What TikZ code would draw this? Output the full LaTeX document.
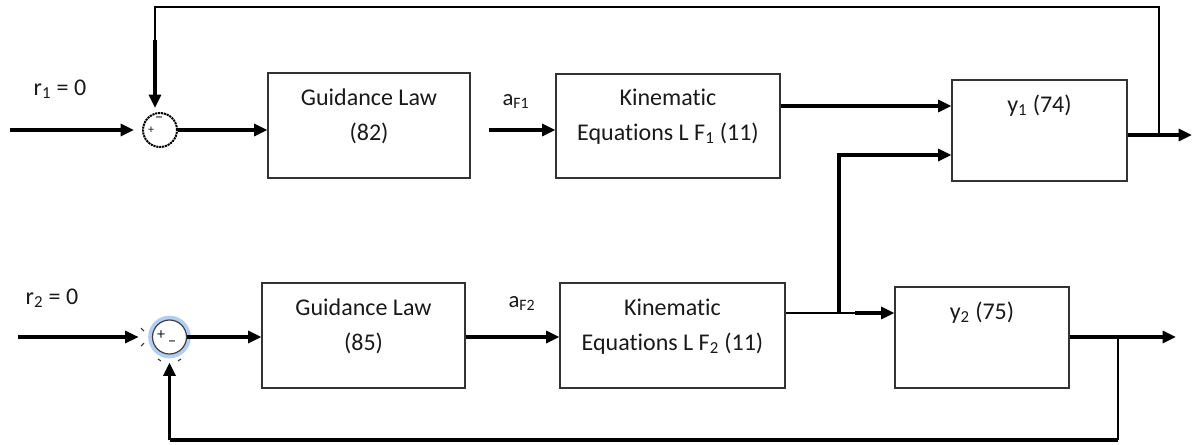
\documentclass[tikz,border=0pt]{standalone}
\usepackage{fontspec}
\setmainfont{Carlito}[RawFeature=-liga]
\usetikzlibrary{arrows.meta,calc}
\begin{document}
\begin{tikzpicture}[x=0.75pt,y=-0.75pt,
  every node/.style={font=\fontsize{18}{22}\selectfont, text=black!90},
  blockbox/.style={draw=black!80, line width=0.8pt, inner sep=0pt},
  txt/.style={anchor=base, inner sep=0pt},
  sumnode/.style={circle, minimum size=25.5pt, inner sep=0pt},
  tip/.style={-{Triangle[length=10pt,width=9pt]}},
  thickline/.style={line width=2.3pt},
  thinline/.style={line width=1pt},
]
\useasboundingbox (0,0) rectangle (1193,444);

% ---------- blocks ----------
\node[blockbox, minimum width=151.5pt, minimum height=78.75pt] (gl1) at (369,125.5) {};
\node[blockbox, minimum width=168pt, minimum height=78pt] (ke1) at (668,126) {};
\node[blockbox, minimum width=131.25pt, minimum height=75.75pt] (y1) at (1039.5,130.5) {};
\node[blockbox, minimum width=152.25pt, minimum height=78.75pt] (gl2) at (363.5,335.5) {};
\node[blockbox, minimum width=168.75pt, minimum height=78.75pt] (ke2) at (672.5,335.5) {};
\node[blockbox, minimum width=130.5pt, minimum height=75.75pt] (y2) at (982,337.5) {};

% ---------- block texts ----------
\node[txt] (gl1a) at ($(gl1.north)+(0,33)$) {Guidance Law};
\node[txt] (gl1b) at ($(gl1.north)+(0,68)$) {(82)};
\node[txt] (ke1a) at ($(ke1.north)+(0,32)$) {Kinematic};
\node[txt] (ke1b) at ($(ke1.north)+(0,67)$) {Equations L F\textsubscript{1} (11)};
\node[txt] (y1a) at ($(y1.north)+(0,33)$) {y\textsubscript{1} (74)};
\node[txt] (gl2a) at ($(gl2.north)+(0,33)$) {Guidance Law};
\node[txt] (gl2b) at ($(gl2.north)+(0,68)$) {(85)};
\node[txt] (ke2a) at ($(ke2.north)+(0,33)$) {Kinematic};
\node[txt] (ke2b) at ($(ke2.north)+(0,68)$) {Equations L F\textsubscript{2} (11)};
\node[txt] (y2a) at ($(y2.north)+(0,33)$) {y\textsubscript{2} (75)};

% ---------- labels ----------
\node[txt] (r1) at (60,95) {r\textsubscript{1} = 0};
\node[txt] (r2) at (52,304) {r\textsubscript{2} = 0};
\node[txt, font=\fontsize{17}{18}\selectfont] (af1) at (516,105) {a\textsubscript{F1}};
\node[txt, font=\fontsize{17}{18}\selectfont] (af2) at (522,307) {a\textsubscript{F2}};

% ---------- summing junctions ----------
\node[sumnode, draw=black, line width=1.5pt, dash pattern=on 1.6pt off 0.6pt] (s1) at (160,130) {};
\node[inner sep=0pt, font=\fontsize{12}{12}\selectfont] (s1m) at (159,120) {\textminus};
\node[inner sep=0pt, font=\fontsize{9}{9}\selectfont] (s1p) at (151,130) {+};

\fill[color={rgb,255:red,178;green,206;blue,242}] (169.5,337) circle[radius=16pt];
\node[sumnode, draw=black!75, line width=0.9pt, fill=white] (s2) at (169.5,337) {};
\node[inner sep=0pt, font=\fontsize{12}{12}\selectfont] (s2p) at (161,335) {+};
\node[inner sep=0pt, font=\fontsize{12}{12}\selectfont] (s2m) at (172,344) {\textminus};
\draw[black!80, line width=0.8pt] (141,328) -- (144,331) (141,346) -- (144,343)
  (158,359) -- (161,361) (181,359) -- (178,361);

% ---------- top row connectors ----------
\coordinate (in1) at (10,130);
\draw[thickline, tip, shorten >=6pt] (in1) -- (s1.west);
\draw[thickline, tip] (s1.east) -- (gl1.west |- s1);
\draw[thickline, tip, shorten <=13.5pt] (gl1.east |- s1) -- (ke1.west |- s1);
\coordinate (j1) at (952,106);
\draw[thickline, tip] (ke1.east |- j1) -- (y1.west |- j1);

\coordinate (o1) at (1192,135);
\draw[thickline, tip] (y1.east |- o1) -- (o1);
\coordinate (fbr) at (1159,135);
\coordinate (fbtr) at (1159,7);
\coordinate (fbtl) at (155,7);
\coordinate (fbm) at (155,40);
\draw[line width=1.3pt] (fbr) -- (fbtr) -- (fbtl) -- (fbm);
\draw[thickline, tip, shorten >=3pt] (fbm) -- (fbm |- s1.north);

% ---------- bottom row connectors ----------
\coordinate (in2) at (18,337);
\draw[thickline, tip, shorten >=10pt] (in2) -- (s2.west);
\draw[thickline, tip] (s2.east) -- (gl2.west |- s2);
\draw[thickline, tip] (gl2.east |- s2) -- (ke2.west |- s2);

\coordinate (br) at (839,313);
\coordinate (bt) at (839,155);
\coordinate (ta) at (855,313);
\draw[thinline] (ke2.east |- br) -- (ta);
\draw[thickline, tip] (ta) -- (y2.west |- ta);
\draw[thickline, tip] (br) -- (bt) -- (y1.west |- bt);

\coordinate (o2) at (1176,337);
\draw[thickline, tip] (y2.east |- o2) -- (o2);
\coordinate (fb2r) at (1118,337);
\coordinate (fb2b) at (1118,440);
\coordinate (fb2l) at (169.5,440);
\draw[thinline] (fb2r) -- (fb2b);
\draw[thickline] (fb2b) -- (fb2l);
\draw[thickline, tip, shorten >=6pt] (fb2l) -- (s2.south);
\end{tikzpicture}
\end{document}
